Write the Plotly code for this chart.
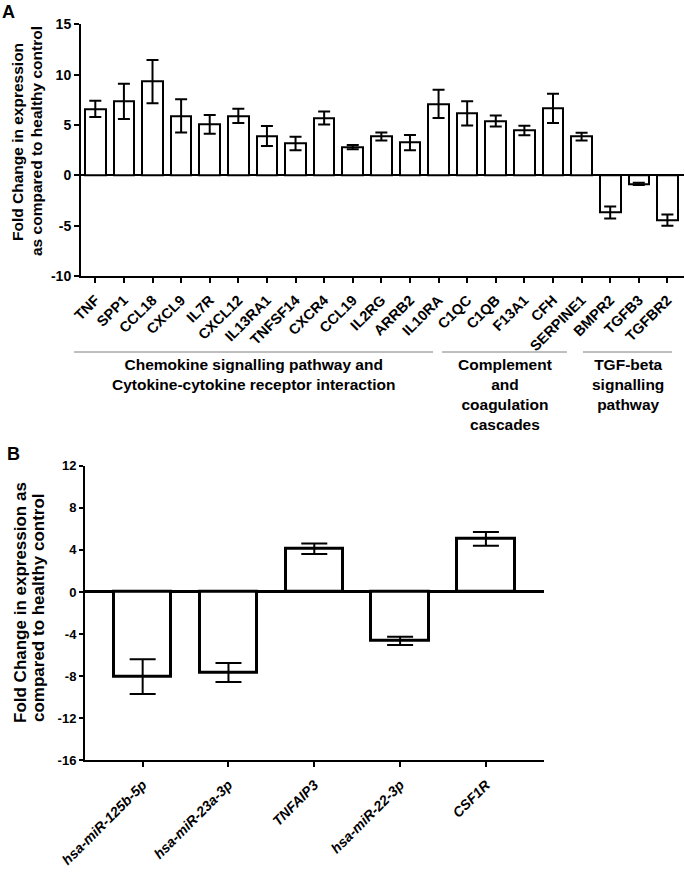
import plotly.graph_objects as go

# ---------------- Data ----------------
genes_a = ["TNF", "SPP1", "CCL18", "CXCL9", "IL7R", "CXCL12", "IL13RA1", "TNFSF14",
           "CXCR4", "CCL19", "IL2RG", "ARRB2", "IL10RA", "C1QC", "C1QB", "F13A1",
           "CFH", "SERPINE1", "BMPR2", "TGFB3", "TGFBR2"]
fold_a = [6.6, 7.35, 9.3, 5.9, 5.05, 5.9, 3.9, 3.15, 5.7, 2.8, 3.85, 3.25,
          7.1, 6.15, 5.4, 4.45, 6.65, 3.85, -3.7, -0.85, -4.45]
err_a = [0.8, 1.75, 2.15, 1.65, 0.93, 0.7, 1.0, 0.67, 0.65, 0.22, 0.4, 0.75,
         1.4, 1.2, 0.55, 0.47, 1.45, 0.38, 0.6, 0.12, 0.55]
yticks_a = [-10, -5, 0, 5, 10, 15]
yticklabels_a = ["-10", "-5", "0", "5", "10", "15"]

genes_b = ["hsa-miR-125b-5p", "hsa-miR-23a-3p", "TNFAIP3", "hsa-miR-22-3p", "CSF1R"]
fold_b = [-8.05, -7.65, 4.1, -4.65, 5.05]
err_b = [1.65, 0.9, 0.5, 0.4, 0.65]
yticks_b = [-16, -12, -8, -4, 0, 4, 8, 12]
yticklabels_b = ["-16", "-12", "-8", "-4", "0", "4", "8", "12"]

groups_a = [
    ["Chemokine signalling pathway and", "Cytokine-cytokine receptor interaction"],
    ["Complement", "and", "coagulation", "cascades"],
    ["TGF-beta", "signalling", "pathway"],
]

# ---------------- Layout helpers ----------------
W, H = 685, 874
def px(x):
    return x / W
def py(y):
    return 1 - y / H

FONT = "Liberation Sans, Arial, sans-serif"

fig = go.Figure()

fig.add_trace(go.Bar(
    x=genes_a, y=fold_a, width=0.72,
    marker=dict(color="white", line=dict(color="black", width=2)),
    error_y=dict(type="data", array=err_a, visible=True, color="black",
                 thickness=2, width=6),
    xaxis="x", yaxis="y", showlegend=False, hoverinfo="x+y",
))

fig.add_trace(go.Bar(
    x=genes_b, y=fold_b, width=0.67,
    marker=dict(color="white", line=dict(color="black", width=3)),
    error_y=dict(type="data", array=err_b, visible=True, color="black",
                 thickness=2, width=13),
    xaxis="x2", yaxis="y2", showlegend=False, hoverinfo="x+y",
))

axis_common = dict(showline=True, linecolor="black", linewidth=2, ticks="outside",
                   tickcolor="black", tickwidth=2, showgrid=False, mirror=False,
                   automargin=False)

fig.update_layout(
    width=W, height=H,
    margin=dict(l=0, r=0, t=0, b=0, autoexpand=False),
    paper_bgcolor="white", plot_bgcolor="white",
    font=dict(family=FONT, color="black"),
    bargap=0,
    xaxis=dict(domain=[px(81), px(684)], anchor="y", type="category",
               range=[-0.5, 20.58], ticklen=5, tickangle=-45, ticklabelstandoff=3,
               tickfont=dict(family=FONT, size=14.5, weight="bold", color="black"),
               zeroline=False, **axis_common),
    yaxis=dict(domain=[py(276), py(24.3)], anchor="x", range=[-10, 15],
               tickvals=yticks_a, ticktext=yticklabels_a, ticklen=5,
               tickfont=dict(family=FONT, size=14, weight="bold", color="black"),
               zeroline=True, zerolinecolor="black", zerolinewidth=2,
               **axis_common),
    xaxis2=dict(domain=[px(85), px(544)], anchor="y2", type="category",
                range=[-0.672, 4.677], ticklen=5, tickangle=-45, ticklabelstandoff=4,
                tickfont=dict(family=FONT, size=14, weight="bold", style="italic",
                              color="black"),
                zeroline=False, **axis_common),
    yaxis2=dict(domain=[py(760.3), py(465.7)], anchor="x2", range=[-16, 12],
                tickvals=yticks_b, ticktext=yticklabels_b, ticklen=4,
                tickfont=dict(family=FONT, size=13, weight="bold", color="black"),
                zeroline=True, zerolinecolor="black", zerolinewidth=2.5,
                **axis_common),
)

annotations = []
# Panel letters
annotations.append(dict(text="<b>A</b>", x=px(0), y=py(0), xref="paper", yref="paper",
                        xanchor="left", yanchor="top", showarrow=False,
                        font=dict(size=18, family=FONT)))
annotations.append(dict(text="<b>B</b>", x=px(5), y=py(442), xref="paper", yref="paper",
                        xanchor="left", yanchor="top", showarrow=False,
                        font=dict(size=18, family=FONT)))

# Y-axis titles (one annotation per line)
titles = [
    ("Fold Change in expression", 17, 142, 15.5),
    ("as compared to healthy control", 37, 141, 15.5),
    ("Fold Change in expression as", 20, 603, 17),
    ("compared to healthy control", 38, 608, 17),
]
for txt, x, y, s in titles:
    annotations.append(dict(text="<b>%s</b>" % txt, x=px(x), y=py(y), xref="paper",
                            yref="paper", xanchor="center", yanchor="middle",
                            textangle=-90, showarrow=False,
                            font=dict(size=s, family=FONT)))

# Group brackets under panel A
group_lines = [(74, 433), (442, 567), (583, 672)]
shapes = []
for (x0, x1), lines in zip(group_lines, groups_a):
    shapes.append(dict(type="line", xref="paper", yref="paper",
                       x0=px(x0), x1=px(x1), y0=py(352), y1=py(352),
                       line=dict(color="#7f7f7f", width=1)))
    annotations.append(dict(text="<b>" + "<br>".join(lines) + "</b>",
                            x=px((x0 + x1) / 2), y=py(354), xref="paper", yref="paper",
                            xanchor="center", yanchor="top", align="center",
                            showarrow=False, font=dict(size=15.5, family=FONT)))

fig.update_layout(annotations=annotations, shapes=shapes)

fig.write_html(
    "out.html",
    config={"displayModeBar": False},
    post_script="document.body.style.margin='0';document.body.style.overflow='hidden';"
                "window.dispatchEvent(new Event('resize'));",
)
